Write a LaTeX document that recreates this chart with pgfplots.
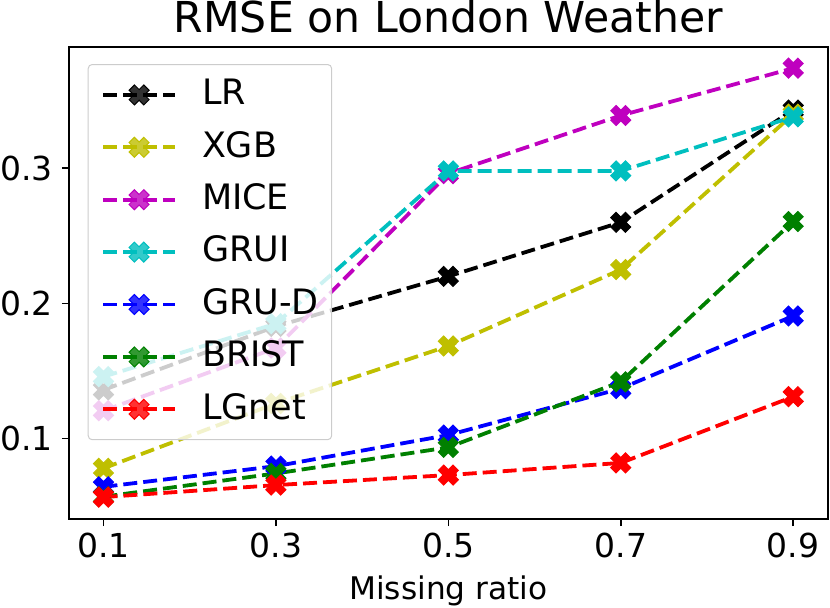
\documentclass[border=0pt]{standalone}
\usepackage{pgfplots}
\pgfplotsset{compat=1.18}
\usepackage{fontspec}
\setmainfont{DejaVu Sans}
\definecolor{mk}{rgb}{0,0,0}
\definecolor{my}{rgb}{0.75,0.75,0}
\definecolor{mm}{rgb}{0.75,0,0.75}
\definecolor{mc}{rgb}{0,0.75,0.75}
\definecolor{mb}{rgb}{0,0,1}
\definecolor{mg}{rgb}{0,0.5,0}
\definecolor{mr}{rgb}{1,0,0}
\pgfdeclareplotmark{Xf}{%
  \pgftransformrotate{45}%
  \pgfpathmoveto{\pgfqpoint{-0.36\pgfplotmarksize}{\pgfplotmarksize}}%
  \pgfpathlineto{\pgfqpoint{0.36\pgfplotmarksize}{\pgfplotmarksize}}%
  \pgfpathlineto{\pgfqpoint{0.36\pgfplotmarksize}{0.36\pgfplotmarksize}}%
  \pgfpathlineto{\pgfqpoint{\pgfplotmarksize}{0.36\pgfplotmarksize}}%
  \pgfpathlineto{\pgfqpoint{\pgfplotmarksize}{-0.36\pgfplotmarksize}}%
  \pgfpathlineto{\pgfqpoint{0.36\pgfplotmarksize}{-0.36\pgfplotmarksize}}%
  \pgfpathlineto{\pgfqpoint{0.36\pgfplotmarksize}{-\pgfplotmarksize}}%
  \pgfpathlineto{\pgfqpoint{-0.36\pgfplotmarksize}{-\pgfplotmarksize}}%
  \pgfpathlineto{\pgfqpoint{-0.36\pgfplotmarksize}{-0.36\pgfplotmarksize}}%
  \pgfpathlineto{\pgfqpoint{-\pgfplotmarksize}{-0.36\pgfplotmarksize}}%
  \pgfpathlineto{\pgfqpoint{-\pgfplotmarksize}{0.36\pgfplotmarksize}}%
  \pgfpathlineto{\pgfqpoint{-0.36\pgfplotmarksize}{0.36\pgfplotmarksize}}%
  \pgfpathclose
  \pgfusepathqfillstroke
}
\pgfplotsset{
  ser/.style={color=#1, line width=1.9pt, dash pattern=on 7pt off 3pt,
    mark=Xf, mark size=5.2pt, mark options={solid, line width=0.5pt, fill=#1}},
}
\begin{document}
\begin{tikzpicture}
\begin{axis}[
  at={(0,0)}, anchor=south west,
  width=379.35pt, height=236.15pt, scale only axis,
  xmin=0.06, xmax=0.94, ymin=0.0405, ymax=0.3899,
  xtick={0.1,0.3,0.5,0.7,0.9}, ytick={0.1,0.2,0.3},
  /pgf/number format/assume math mode=true,
  /pgf/number format/fixed, /pgf/number format/precision=1,
  tick align=outside, tick pos=left, major tick length=3.5pt,
  every tick/.style={black, line width=0.8pt},
  axis line style={line width=0.8pt},
  tick label style={font=\fontsize{16.5}{19}\selectfont},
  xticklabel style={inner sep=0pt, anchor=north, yshift=-3.35pt},
  yticklabel style={inner sep=0pt, anchor=east, xshift=-4.5pt},
  title={RMSE on London Weather},
  title style={at={(axis description cs:0.5,1)}, anchor=base, yshift=1.35pt, inner sep=0pt, font=\fontsize{21.3}{25}\selectfont},
  xlabel={Missing ratio},
  xlabel style={at={(axis description cs:0.5,0)}, anchor=base, yshift=-40.35pt, inner sep=0pt, font=\fontsize{15.6}{18}\selectfont},
  legend image code/.code={\draw[mark repeat=2,mark phase=2,#1] plot coordinates {(0pt,0pt) (18pt,0pt) (36pt,0pt)};},
  legend cell align=left,
  legend style={at={(axis description cs:0,1)}, anchor=north west, xshift=9.35pt, yshift=-8.65pt,
    draw=black!20, line width=0.5pt, rounded corners=2pt, fill=white, fill opacity=0.8, draw opacity=1, text opacity=1,
    inner xsep=6.5pt, inner ysep=2.1pt, row sep=0pt, column sep=12.5pt,
    font=\fontsize{17.5}{20}\selectfont,
    nodes={inner sep=0pt, text height=18pt, text depth=8.2pt}},
]
\addplot[ser=mk] coordinates {(0.1,0.136) (0.3,0.183) (0.5,0.220) (0.7,0.260) (0.9,0.343)};
\addlegendentry{LR}
\addplot[ser=my] coordinates {(0.1,0.078) (0.3,0.126) (0.5,0.1685) (0.7,0.225) (0.9,0.340)};
\addlegendentry{XGB}
\addplot[ser=mm] coordinates {(0.1,0.1206) (0.3,0.167) (0.5,0.296) (0.7,0.339) (0.9,0.374)};
\addlegendentry{MICE}
\addplot[ser=mc] coordinates {(0.1,0.1458) (0.3,0.185) (0.5,0.298) (0.7,0.298) (0.9,0.338)};
\addlegendentry{GRUI}
\addplot[ser=mb] coordinates {(0.1,0.0643) (0.3,0.0796) (0.5,0.1026) (0.7,0.137) (0.9,0.1907)};
\addlegendentry{GRU-D}
\addplot[ser=mg] coordinates {(0.1,0.057) (0.3,0.0742) (0.5,0.0935) (0.7,0.142) (0.9,0.2606)};
\addlegendentry{BRIST}
\addplot[ser=mr] coordinates {(0.1,0.0567) (0.3,0.0656) (0.5,0.073) (0.7,0.082) (0.9,0.131)};
\addlegendentry{LGnet}
\end{axis}
\pgfresetboundingbox
\path[use as bounding box] (-34.5pt,-44pt) rectangle (380.5pt,259.5pt);
\end{tikzpicture}
\end{document}
